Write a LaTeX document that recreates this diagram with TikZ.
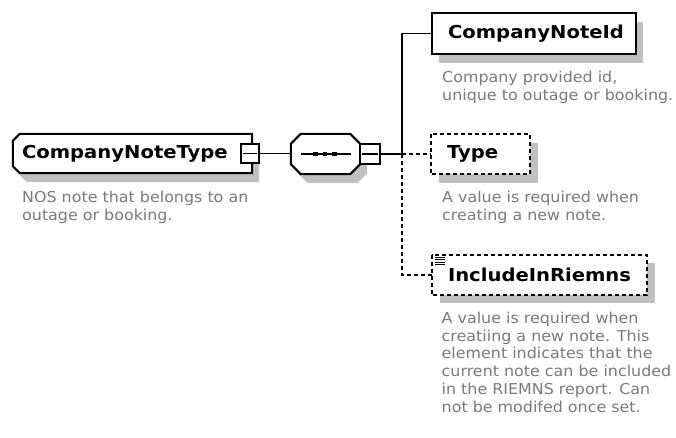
\documentclass[tikz,border=0pt]{standalone}
\usepackage{fontspec}
\newfontfamily\ttlfam[FakeStretch=1.1]{DejaVu Sans}
\newfontfamily\descfam[FakeStretch=1.06]{DejaVu Sans}
\usetikzlibrary{calc}
\definecolor{descgray}{RGB}{122,122,122}
\definecolor{shadowgray}{RGB}{192,192,192}
\tikzset{
  ttl/.style={font=\ttlfam\bfseries\fontsize{17.8}{20}\selectfont, inner ysep=0pt, align=left, anchor=center},
  desc/.style={font=\descfam\fontsize{15}{17.8}\selectfont, text=descgray, inner sep=0pt, anchor=base west},
  shadowfill/.style={fill=shadowgray, draw=none},
  boxline/.style={line width=2pt, draw=black, fill=white},
  dashbox/.style={boxline, dash pattern=on 4pt off 3pt},
  conn/.style={line width=1.8pt},
  dconn/.style={line width=1.8pt, dash pattern=on 4pt off 3pt},
  minusbox/.style={draw=black, fill=white, line width=1.6pt, inner sep=0pt},
}
\begin{document}
\begin{tikzpicture}[x=1pt,y=-1pt]
\useasboundingbox (0,0) rectangle (676,437);
\fill[white] (0,0) rectangle (676,437);

% --- node placement (text boxes, outlines drawn below) ---
\node[ttl, inner xsep=9pt, text width=221pt, minimum height=39pt] (cnt) at (132.5,153.5) {};
\node[inner sep=0pt, minimum width=69pt, minimum height=40pt] (seq) at (325.5,154) {};
\node[ttl, inner xsep=16pt, text width=172pt, minimum height=41pt] (cid) at (534,33.5) {};
\node[ttl, inner xsep=16pt, text width=67pt, minimum height=40pt] (type) at (480.5,154) {};
\node[ttl, inner xsep=16pt, text width=183pt, minimum height=40pt] (inc) at (539.5,275) {};

% --- shadows ---
\fill[shadowfill] ($(cnt.north west)+(14,9)$) -- ($(cnt.north east)+(7,9)$) -- ($(cnt.south east)+(7,9)$)
  -- ($(cnt.south west)+(14,9)$) -- ($(cnt.south west)+(7,2)$) -- ($(cnt.north west)+(7,16)$) -- cycle;
\fill[shadowfill] ($(seq.north west)+(17,9)$) -- ($(seq.north east)+(-3,9)$) -- ($(seq.north east)+(7,19)$)
  -- ($(seq.south east)+(7,-1)$) -- ($(seq.south east)+(-3,9)$) -- ($(seq.south west)+(17,9)$)
  -- ($(seq.south west)+(7,-1)$) -- ($(seq.north west)+(7,19)$) -- cycle;
\fill[shadowfill] ($(cid.north west)+(7,9)$) rectangle ($(cid.south east)+(7,9)$);
\fill[shadowfill] ($(type.north west)+(8,9)$) rectangle ($(type.south east)+(8,9)$);
\fill[shadowfill] ($(inc.north west)+(8,8)$) rectangle ($(inc.south east)+(8,8)$);

% --- outlines ---
\draw[boxline] ($(cnt.north west)+(7,0)$) -- (cnt.north east) -- (cnt.south east)
  -- ($(cnt.south west)+(7,0)$) -- ($(cnt.south west)+(0,-7)$) -- ($(cnt.north west)+(0,7)$) -- cycle;
\draw[boxline] ($(seq.north west)+(10,0)$) -- ($(seq.north east)+(-10,0)$) -- ($(seq.north east)+(0,10)$)
  -- ($(seq.south east)+(0,-10)$) -- ($(seq.south east)+(-10,0)$) -- ($(seq.south west)+(10,0)$)
  -- ($(seq.south west)+(0,-10)$) -- ($(seq.north west)+(0,10)$) -- cycle;
\draw[boxline] (cid.north west) rectangle (cid.south east);
\draw[dashbox] (type.north west) rectangle (type.south east);
\draw[dashbox] (inc.north west) rectangle (inc.south east);

% --- titles ---
\node[ttl, inner xsep=9pt, text width=221pt] at (cnt.center) {CompanyNoteType};
\node[ttl, inner xsep=16pt, text width=172pt] at (cid.center) {CompanyNoteId};
\node[ttl, inner xsep=16pt, text width=67pt] at (type.center) {Type};
\node[ttl, inner xsep=16pt, text width=183pt] at (inc.center) {IncludeInRiemns};

% --- sequence symbol ---
\draw[conn] ($(seq.west)+(10,0)$) -- ($(seq.east)+(-9,0)$);
\foreach \dx in {-10.2,-0.6,9}{
  \fill ($(seq.center)+(\dx-2.4,-2.4)$) rectangle ($(seq.center)+(\dx+2.4,2.4)$);
}

% --- simple content icon ---
\foreach \dy in {2.5,5,7.5,10}{
  \draw[line width=1.2pt] ($(inc.north west)+(3.5,\dy)$) -- ($(inc.north west)+(13,\dy)$);
}

% --- minus boxes ---
\node[minusbox, minimum width=18pt, minimum height=19pt] (m1) at (250,153.5) {};
\draw[line width=1.5pt] ($(m1.west)+(3,0)$) -- ($(m1.east)+(-3,0)$);
\node[minusbox, minimum width=20pt, minimum height=20pt] (m2) at (370,154) {};
\draw[line width=1.5pt] ($(m2.west)+(3,0)$) -- ($(m2.east)+(-3,0)$);

% --- connectors ---
\coordinate (bus) at (402,154);
\draw[conn] (m1.east) -- (m1.east -| seq.west);
\draw[conn] (m2.east) -- (bus);
\draw[conn] (bus) |- (cid.west);
\draw[dconn] (bus) -- (type.west);
\draw[dconn] (bus) |- (inc.west);

% --- descriptions ---
\node[desc] (d1) at (22,202.7) {NOS note that belongs to an};
\node[desc] (d2) at (22,220.5) {outage or booking.};
\node[desc] (d3) at (442,82.7) {Company provided id,};
\node[desc] (d4) at (442,100.5) {unique to outage or booking.};
\node[desc] (d5) at (442,202.7) {A value is required when};
\node[desc] (d6) at (442,220.5) {creating a new note.};
\node[desc] (d7) at (441.5,323.3) {A value is required when};
\node[desc] (d8) at (441.5,341.1) {creatiing a new note. This};
\node[desc] (d9) at (441.5,358.9) {element indicates that the};
\node[desc] (d10) at (441.5,376.7) {current note can be included};
\node[desc] (d11) at (441.5,394.5) {in the RIEMNS report. Can};
\node[desc] (d12) at (441.5,412.3) {not be modifed once set.};
\end{tikzpicture}
\end{document}
